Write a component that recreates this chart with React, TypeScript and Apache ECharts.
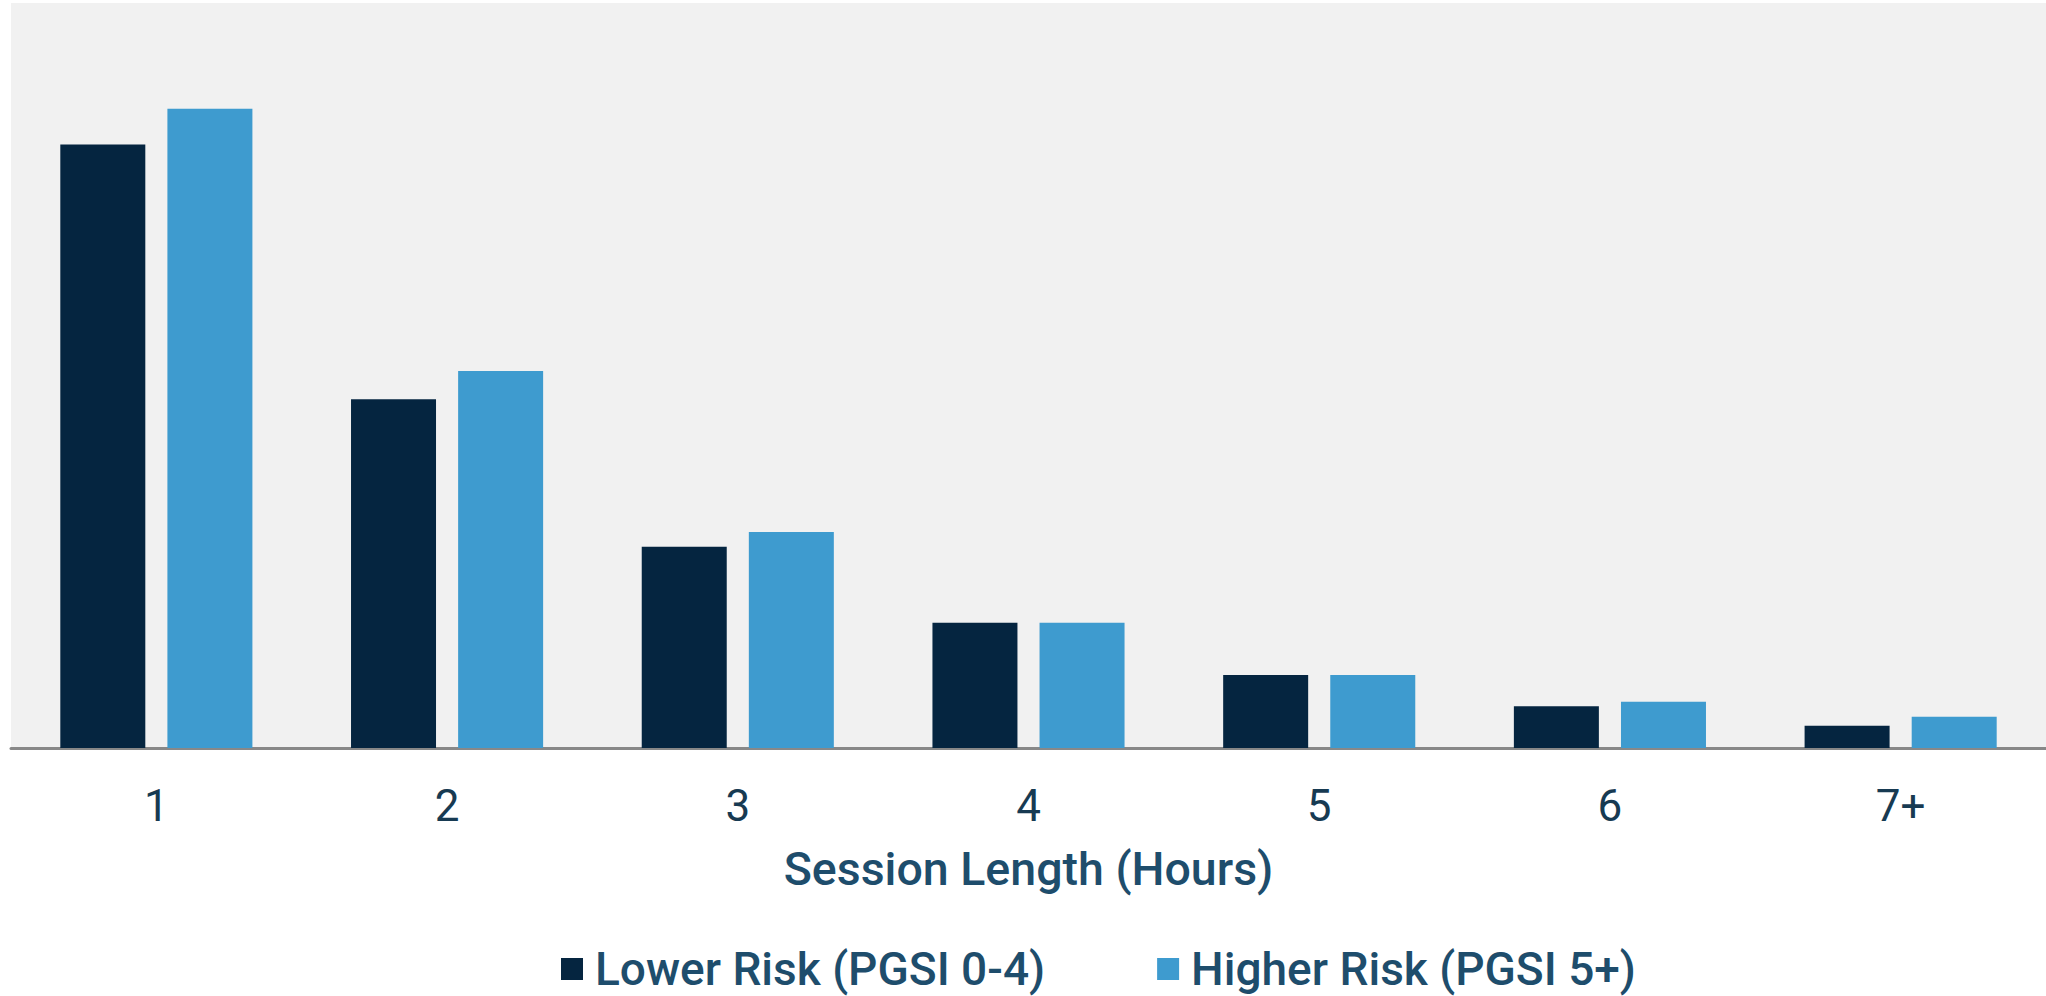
import React, { useEffect, useRef } from "react";
import * as echarts from "echarts";

const categories = ["1", "2", "3", "4", "5", "6", "7+"];
const lowerRisk = [40.5, 23.4, 13.5, 8.4, 4.9, 2.8, 1.5];
const higherRisk = [42.9, 25.3, 14.5, 8.4, 4.9, 3.1, 2.1];
const seriesNames = ["Lower Risk (PGSI 0-4)", "Higher Risk (PGSI 5+)"];
const axisTitle = "Session Length (Hours)";

export default function App() {
  const ref = useRef<HTMLDivElement>(null);
  useEffect(() => {
    if (!ref.current) return;
    const chart = echarts.init(ref.current, undefined, { renderer: "svg" });
    chart.setOption({
      animation: false,
      backgroundColor: "#ffffff",
      textStyle: { fontFamily: "Roboto" },
      grid: {
        left: 11,
        right: -3,
        top: 3,
        bottom: 248,
        show: true,
        backgroundColor: "#f1f1f1",
        borderWidth: 0,
      },
      legend: {
        left: 561,
        top: 946,
        padding: 0,
        itemWidth: 22,
        itemHeight: 22,
        itemGap: 112,
        icon: "rect",
        textStyle: {
          fontFamily: "Roboto",
          fontSize: 46,
          fontWeight: 500,
          color: "#1e4d6c",
          lineHeight: 46,
          padding: [0, 0, 0, 7],
        },
        data: seriesNames,
      },
      xAxis: {
        type: "category",
        data: categories,
        axisLine: { show: true, lineStyle: { color: "#888888", width: 3 } },
        axisTick: { show: false },
        axisLabel: {
          fontFamily: "Roboto",
          fontSize: 44,
          color: "#173a52",
          margin: 36,
        },
        name: axisTitle,
        nameLocation: "middle",
        nameGap: 97,
        nameTextStyle: {
          fontFamily: "Roboto",
          fontSize: 46.5,
          fontWeight: 500,
          color: "#1e4d6c",
        },
      },
      yAxis: {
        type: "value",
        min: 0,
        max: 50,
        show: false,
        splitLine: { show: false },
      },
      series: [
        {
          name: seriesNames[0],
          type: "bar",
          data: lowerRisk,
          barWidth: 85,
          barGap: "26%",
          itemStyle: { color: "#052540" },
        },
        {
          name: seriesNames[1],
          type: "bar",
          data: higherRisk,
          barWidth: 85,
          itemStyle: { color: "#3e9bcf" },
        },
      ],
    });
    return () => chart.dispose();
  }, []);
  return (
    <div
      ref={ref}
      style={{ position: "fixed", left: 0, top: 0, width: 2046, height: 996 }}
    />
  );
}
